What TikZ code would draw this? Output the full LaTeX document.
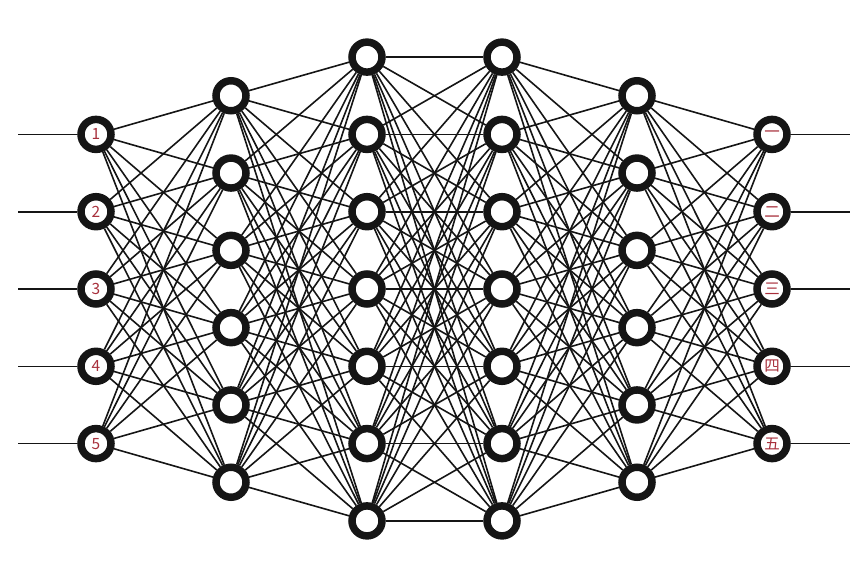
\documentclass[tikz,border=0pt]{standalone}
\usepackage{fontspec}
\newfontfamily\cjk{Noto Sans CJK SC}
\definecolor{ringblack}{HTML}{151515}
\definecolor{labelred}{HTML}{A8303C}

\begin{document}
\begin{tikzpicture}[x=1pt, y=-1pt,
    neuron/.style={circle, draw=ringblack, fill=white, line width=7.5pt,
        minimum size=30pt, inner sep=0pt, text=labelred,
        font=\cjk\fontsize{15.5}{15.5}\selectfont},
    link/.style={line width=1.6pt, ringblack}]
    \useasboundingbox (0,0) rectangle (866,575);

    % labelled input and output layers
    \foreach \i/\txt in {1/1, 2/2, 3/3, 4/4, 5/5} {
        \node[neuron] (n1-\i) at (96, {289+(\i-3)*77.3}) {\txt};
    }
    \foreach \i/\txt in {1/一, 2/二, 3/三, 4/四, 5/五} {
        \node[neuron] (n6-\i) at (772, {289+(\i-3)*77.3}) {\txt};
    }
    % hidden layers
    \foreach \l/\x/\n in {2/231/6, 3/367/7, 4/502/7, 5/637/6} {
        \foreach \i in {1,...,\n} {
            \node[neuron] (n\l-\i) at (\x, {289+(\i-(\n+1)/2)*77.3}) {};
        }
    }

    % full connections between neighbouring layers
    \foreach \a/\na/\b/\nb in {1/5/2/6, 2/6/3/7, 3/7/4/7, 4/7/5/6, 5/6/6/5} {
        \foreach \i in {1,...,\na} {
            \foreach \j in {1,...,\nb} {
                \draw[link] (n\a-\i) -- (n\b-\j);
            }
        }
    }

    % lines in and out
    \foreach \i in {1,...,5} {
        \coordinate (in\i) at (18, {289+(\i-3)*77.3});
        \coordinate (out\i) at (850, {289+(\i-3)*77.3});
        \draw[link] (in\i) -- (n1-\i);
        \draw[link] (n6-\i) -- (out\i);
    }
\end{tikzpicture}
\end{document}
